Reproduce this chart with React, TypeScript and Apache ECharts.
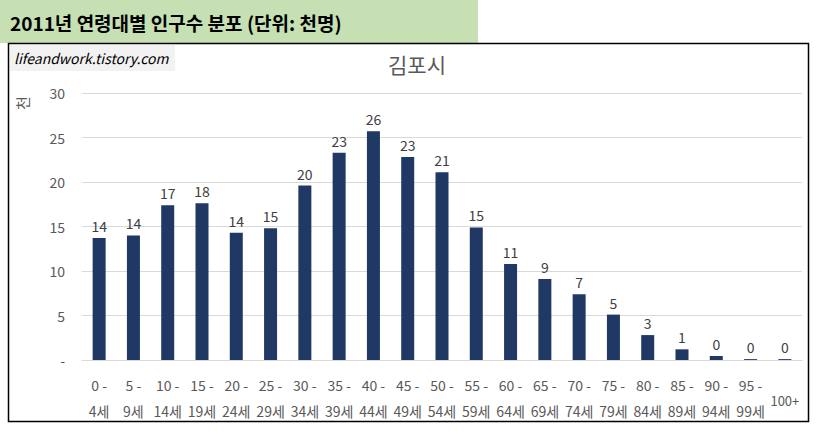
import React, { useEffect, useRef } from "react";
import * as echarts from "echarts";

const categories = ["0 -\n4세", "5 -\n9세", "10 -\n14세", "15 -\n19세", "20 -\n24세", "25 -\n29세", "30 -\n34세", "35 -\n39세", "40 -\n44세", "45 -\n49세", "50 -\n54세", "55 -\n59세", "60 -\n64세", "65 -\n69세", "70 -\n74세", "75 -\n79세", "80 -\n84세", "85 -\n89세", "90 -\n94세", "95 -\n99세", "100+"];
const population = [13.7, 14.0, 17.4, 17.6, 14.3, 14.8, 19.6, 23.3, 25.7, 22.8, 21.1, 14.9, 10.8, 9.1, 7.4, 5.1, 2.8, 1.2, 0.45, 0.1, 0.1];
const yTicks = [0, 5, 10, 15, 20, 25, 30];
const headerText = "2011년 연령대별 인구수 분포 (단위: 천명)";
const chartTitle = "김포시";
const watermark = "lifeandwork.tistory.com";
const yUnit = "천";

const FONT = "'Noto Sans CJK KR', 'Noto Sans', sans-serif";

export default function App() {
  const ref = useRef<HTMLDivElement>(null);
  useEffect(() => {
    const chart = echarts.init(ref.current!, null, { renderer: "svg" });
    chart.setOption({
      animation: false,
      backgroundColor: "#ffffff",
      textStyle: { fontFamily: FONT },
      graphic: [
        { type: "rect", shape: { x: 0, y: 0, width: 478, height: 43 }, style: { fill: "#c6e0b4" }, z: 0 },
        { type: "text", x: 10, y: 22, style: { text: headerText, fill: "#000000", font: `bold 19px ${FONT}`, verticalAlign: "middle" } },
        { type: "rect", shape: { x: 8.5, y: 43.5, width: 800, height: 378 }, style: { fill: "none", stroke: "#000000", lineWidth: 1.5 } },
        { type: "rect", shape: { x: 10, y: 45, width: 165, height: 26 }, style: { fill: "#f2f2f2" } },
        { type: "text", x: 14, y: 58, style: { text: watermark, fill: "#000000", font: `italic 14px ${FONT}`, verticalAlign: "middle" } },
        { type: "text", x: 22, y: 103, rotation: Math.PI / 2, style: { text: yUnit, fill: "#595959", font: `15px ${FONT}`, align: "center", verticalAlign: "middle" } },
      ],
      title: {
        text: chartTitle,
        left: 412,
        top: 48,
        textAlign: "center",
        textStyle: { fontSize: 21, fontWeight: "normal", color: "#595959", fontFamily: FONT },
      },
      grid: { left: 82, right: 18, top: 93, bottom: 74, containLabel: false },
      xAxis: {
        type: "category",
        data: categories,
        axisLine: { lineStyle: { color: "#d9d9d9" } },
        axisTick: { show: false },
        axisLabel: {
          interval: 0,
          margin: 12,
          color: "#595959",
          fontSize: 14,
          lineHeight: 26,
          fontFamily: FONT,
          formatter: (v: string) => (v.indexOf("\n") >= 0 ? v : "{e|}\n{s|" + v + "}"),
          rich: {
            e: { fontSize: 13, lineHeight: 20 },
            s: { fontSize: 13, lineHeight: 16, color: "#595959", fontFamily: FONT },
          },
        },
      },
      yAxis: {
        type: "value",
        min: yTicks[0],
        max: yTicks[yTicks.length - 1],
        interval: 5,
        axisLine: { show: false },
        axisTick: { show: false },
        splitLine: { lineStyle: { color: "#d9d9d9" } },
        axisLabel: {
          margin: 17,
          color: "#595959",
          fontSize: 14,
          fontFamily: FONT,
          formatter: (v: number) => (v === 0 ? "-" : String(v)),
        },
      },
      series: [
        {
          type: "bar",
          data: population,
          barWidth: 13,
          itemStyle: { color: "#203864" },
          label: {
            show: true,
            position: "top",
            distance: 5,
            color: "#404040",
            fontSize: 14,
            fontFamily: FONT,
            formatter: (p: any) => String(Math.round(p.value)),
          },
        },
      ],
    });
    return () => chart.dispose();
  }, []);
  return <div ref={ref} style={{ position: "fixed", left: 0, top: 0, width: 820, height: 434 }} />;
}
